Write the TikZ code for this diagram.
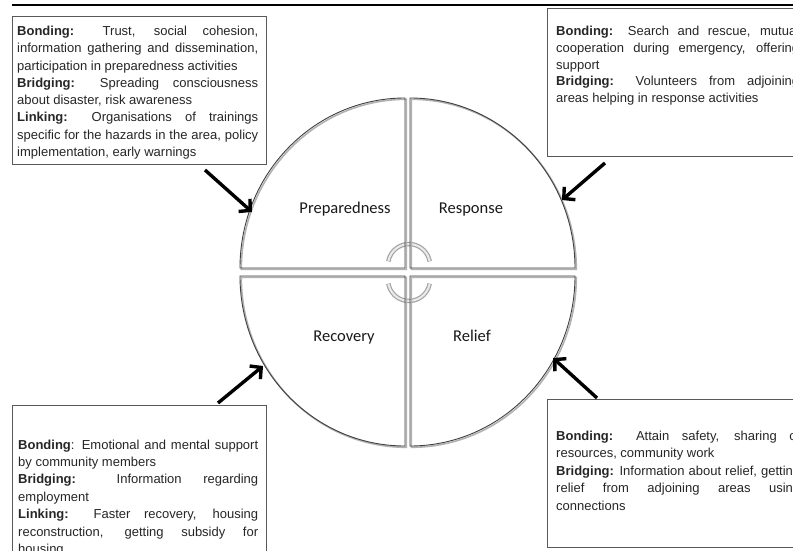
\documentclass[tikz,border=0pt]{standalone}
\usepackage{fontspec}
\setmainfont{Liberation Sans}
\newfontfamily\carlito{Carlito}
\usetikzlibrary{arrows.meta}
\newcommand{\jl}[1]{\makebox[\linewidth][s]{#1}\\}
\begin{document}
\begin{tikzpicture}[x=1pt,y=-1pt,
  infobox/.style={draw=black!65,line width=0.9pt,anchor=north west,inner sep=0},
  infotext/.style={anchor=base west,inner sep=0,text=black!85,font=\fontsize{13}{17.2}\selectfont},
  quad/.style={draw=black!75,line width=0.9pt},
  quadshadow/.style={draw=black!30,line width=1.6pt},
  phase/.style={font=\carlito\fontsize{16.5}{18}\selectfont,text=black!90,inner sep=0,anchor=base},
  bigarrow/.style={line width=3.4pt,-{Straight Barb[length=8pt,width=17pt]}},
  cyc/.style={line width=4.5pt,draw=black!35},
  cycin/.style={line width=2pt,draw=black!8}
]
\useasboundingbox (0,0) rectangle (793,551);
\clip (0,0) rectangle (793,551);
\fill[white] (0,0) rectangle (793,551);

% top rule
\draw[line width=1.6pt] (12,5) -- (793,5);

% boxes
\node[infobox,minimum width=254pt,minimum height=148pt] (tlbox) at (12,16) {};
\node[infobox,minimum width=260pt,minimum height=148pt] (trbox) at (547,8) {};
\node[infobox,minimum width=254pt,minimum height=160pt] (blbox) at (12,405) {};
\node[infobox,minimum width=260pt,minimum height=148pt] (brbox) at (547,399) {};

\node[infotext] (tltext) at (17,35.5) {\parbox[t]{241pt}{\fontsize{13}{17.3}\selectfont
\jl{\textbf{Bonding:} Trust, social cohesion,}
\jl{information gathering and dissemination,}
participation in preparedness activities\\
\jl{\textbf{Bridging:} Spreading consciousness}
about disaster, risk awareness\\
\jl{\textbf{Linking:} Organisations of trainings}
\jl{specific for the hazards in the area, policy}
implementation, early warnings}};

\node[infotext] (trtext) at (556,35.5) {\parbox[t]{243pt}{\fontsize{13}{16.8}\selectfont
\jl{\textbf{Bonding:} Search and rescue, mutual}
\jl{cooperation during emergency, offering}
support\\
\jl{\textbf{Bridging:} Volunteers from adjoining}
areas helping in response activities}};

\node[infotext] (bltext) at (18,449) {\parbox[t]{240pt}{\fontsize{13}{17.4}\selectfont
\jl{\textbf{Bonding}: Emotional and mental support}
by community members\\
\jl{\textbf{Bridging:} Information regarding}
employment\\
\jl{\textbf{Linking:} Faster recovery, housing}
\jl{reconstruction, getting subsidy for}
housing}};

\node[infotext] (brtext) at (556,440.5) {\parbox[t]{244pt}{\fontsize{13}{17.4}\selectfont
\jl{\textbf{Bonding:} Attain safety, sharing of}
resources, community work\\
\jl{\textbf{Bridging:} Information about relief, getting}
\jl{relief from adjoining areas using}
connections}};

% cycle arcs (behind outlines)
\draw[cyc] (388.3,261.4) arc[start angle=190,end angle=350,radius=21];
\draw[cycin] (388.3,261.4) arc[start angle=190,end angle=350,radius=21];
\draw[cyc] (429.7,283.6) arc[start angle=10,end angle=170,radius=21];
\draw[cycin] (429.7,283.6) arc[start angle=10,end angle=170,radius=21];

% quadrant shadows
\begin{scope}[shift={(1.3,1.3)}]
\draw[quadshadow] (405,268) -- (240,268) arc[start angle=180,end angle=270,x radius=165,y radius=170] -- cycle;
\draw[quadshadow] (410,268) -- (410,98) arc[start angle=270,end angle=360,x radius=165,y radius=170] -- cycle;
\draw[quadshadow] (410,276) -- (575,276) arc[start angle=0,end angle=90,x radius=165,y radius=170] -- cycle;
\draw[quadshadow] (405,276) -- (405,446) arc[start angle=90,end angle=180,x radius=165,y radius=170] -- cycle;
\end{scope}
% quadrants
\draw[quad] (405,268) -- (240,268) arc[start angle=180,end angle=270,x radius=165,y radius=170] -- cycle;
\draw[quad] (410,268) -- (410,98) arc[start angle=270,end angle=360,x radius=165,y radius=170] -- cycle;
\draw[quad] (410,276) -- (575,276) arc[start angle=0,end angle=90,x radius=165,y radius=170] -- cycle;
\draw[quad] (405,276) -- (405,446) arc[start angle=90,end angle=180,x radius=165,y radius=170] -- cycle;

% phase labels
\node[phase] (prep) at (345,213) {Preparedness};
\node[phase] (resp) at (471,213) {Response};
\node[phase] (reco) at (344,341) {Recovery};
\node[phase] (reli) at (472,341) {Relief};

% arrows
\coordinate (a1s) at (205,170); \coordinate (a1e) at (252,212);
\coordinate (a2s) at (605,163); \coordinate (a2e) at (562,200);
\coordinate (a3s) at (218,403); \coordinate (a3e) at (263,366);
\coordinate (a4s) at (597,398); \coordinate (a4e) at (553,358);
\draw[bigarrow] (a1s) -- (a1e);
\draw[bigarrow] (a2s) -- (a2e);
\draw[bigarrow] (a3s) -- (a3e);
\draw[bigarrow] (a4s) -- (a4e);
\end{tikzpicture}
\end{document}
